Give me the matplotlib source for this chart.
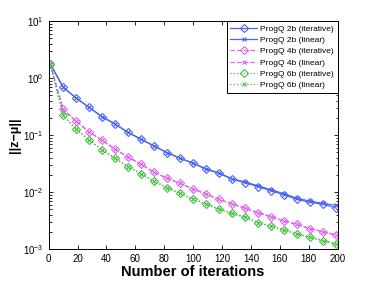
import numpy as np
import matplotlib
matplotlib.use("Agg")
from matplotlib import pyplot as plt

plt.rcParams['font.family'] = ['Liberation Sans', 'DejaVu Sans']

iters = [1, 10, 19, 28, 37, 46, 55, 64, 73, 82, 91, 100, 109, 118, 127, 136,
         145, 154, 163, 172, 181, 190, 199]

prog2_iter = [1.8, 0.69, 0.446, 0.306, 0.209, 0.156, 0.111, 0.084, 0.064, 0.049,
              0.039, 0.0319, 0.0251, 0.0213, 0.0167, 0.0146, 0.0124, 0.0105,
              0.0089, 0.0074, 0.0066, 0.0061, 0.0052]
prog2_lin = [1.8, 0.69, 0.446, 0.306, 0.209, 0.156, 0.111, 0.084, 0.064, 0.049,
             0.039, 0.0321, 0.0254, 0.0216, 0.0170, 0.0150, 0.0128, 0.0109,
             0.0093, 0.0077, 0.0069, 0.0063, 0.0058]
prog4_iter = [1.8, 0.282, 0.174, 0.113, 0.081, 0.056, 0.041, 0.0306, 0.0221,
              0.0174, 0.0142, 0.0113, 0.0092, 0.0074, 0.0062, 0.0052, 0.0043,
              0.0037, 0.0031, 0.0027, 0.00227, 0.0020, 0.00176]
prog4_lin = prog4_iter
prog6_iter = [1.8, 0.224, 0.127, 0.082, 0.0546, 0.039, 0.0278, 0.0208, 0.0154,
              0.0119, 0.0095, 0.0075, 0.0062, 0.0050, 0.0042, 0.0036, 0.0029,
              0.0025, 0.00215, 0.00183, 0.0016, 0.0014, 0.00122]
prog6_lin = prog6_iter

blue = "#4a66f0"
magenta = "#e066f0"
green = "#44c040"

fig = plt.figure(figsize=(3.74, 2.81), dpi=100)
ax = fig.add_axes([0.130, 0.114, 0.773, 0.811])

ax.semilogy(iters, prog2_iter, '-', color=blue, marker='D', mfc='none', ms=3.6, lw=0.9,
            mew=0.8, label='ProgQ 2b (iterative)')
ax.semilogy(iters, prog2_lin, '-', color=blue, marker='x', ms=3.2, lw=0.9,
            mew=0.8, label='ProgQ 2b (linear)')
ax.semilogy(iters, prog4_iter, '--', color=magenta, marker='D', mfc='none', ms=3.6,
            lw=0.9, mew=0.8, label='ProgQ 4b (iterative)')
ax.semilogy(iters, prog4_lin, '--', color=magenta, marker='x', ms=3.2, lw=0.9,
            mew=0.8, label='ProgQ 4b (linear)')
ax.semilogy(iters, prog6_iter, ':', color=green, marker='D', mfc='none', ms=3.6,
            lw=0.9, mew=0.8, label='ProgQ 6b (iterative)')
ax.semilogy(iters, prog6_lin, ':', color=green, marker='x', ms=3.2, lw=0.9,
            mew=0.8, label='ProgQ 6b (linear)')

ax.set_xlim(0, 200)
ax.set_ylim(1e-3, 1e1)
ax.set_xticks(np.arange(0, 201, 20))
ax.tick_params(which='both', direction='in', top=True, right=True, labelsize=7,
               length=3, width=0.6)
ax.tick_params(which='minor', length=1.8)
for s in ax.spines.values():
    s.set_linewidth(0.7)

ax.set_xlabel('Number of iterations', fontsize=10.5, fontweight='bold', labelpad=1)
ax.set_ylabel('||z\u2212\u03bc||', fontsize=9, fontweight='bold', labelpad=2)

leg = ax.legend(loc='upper right', fontsize=6, borderaxespad=0, fancybox=False,
                framealpha=1, edgecolor='black', handlelength=3.2, labelspacing=0.42,
                borderpad=0.45, handletextpad=0.4)
leg.get_frame().set_linewidth(0.7)

fig.savefig('out.png', dpi=100)
